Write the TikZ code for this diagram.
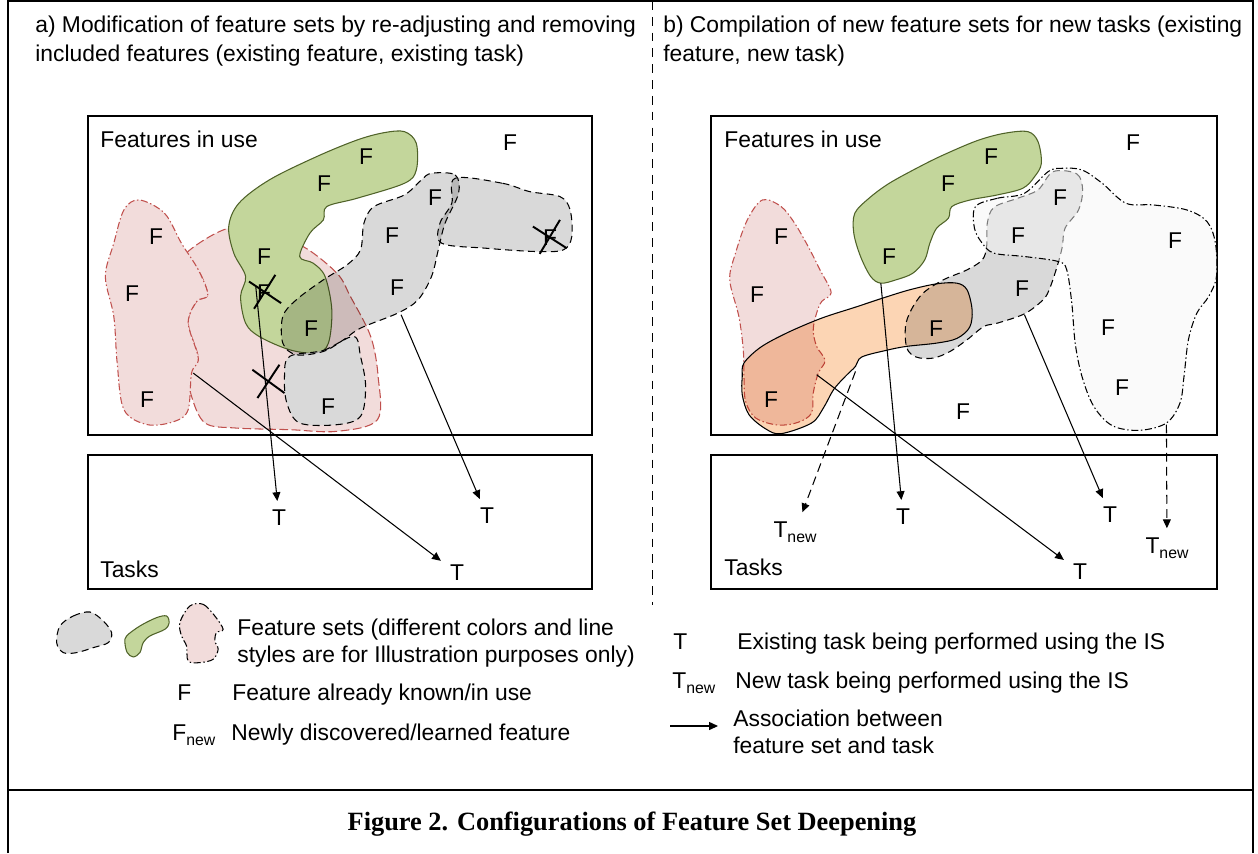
\documentclass[tikz,border=0pt]{standalone}
\usepackage{fontspec}
\setmainfont{Liberation Sans}
\newfontfamily\captionfont{Liberation Serif}
\usepackage{xcolor}
\usetikzlibrary{arrows.meta, positioning}

\definecolor{setgreen}{HTML}{C3D69B}
\definecolor{setgreenline}{HTML}{4F6228}
\definecolor{setred}{HTML}{F2DCDB}
\definecolor{setredline}{HTML}{C0504D}
\definecolor{setgray}{HTML}{D9D9D9}
\definecolor{setorange}{HTML}{FCD5B4}
\definecolor{setlight}{HTML}{F5F5F5}

\newcommand{\newsub}{\raisebox{-0.45ex}{\fontsize{9}{10}\selectfont new}}

\begin{document}
\begin{tikzpicture}[
    x=0.02cm, y=-0.02cm,
    every node/.style={font=\fontsize{13}{16}\selectfont, inner sep=0pt},
    txt/.style={anchor=base west, align=left},
    feat/.style={},
    task/.style={inner sep=5pt},
    panel/.style={draw, line width=0.8pt},
    blobline/.style={line width=0.6pt},
    dashline/.style={dash pattern=on 4pt off 2.5pt},
    dashdotline/.style={dash pattern=on 4pt off 1.5pt on 0.8pt off 1.5pt},
    greenset/.style={blobline, fill=setgreen, draw=setgreenline},
    redset/.style={blobline, fill=setred, draw=setredline},
    grayset/.style={blobline, dashline, fill=setgray, draw=black},
    orangeset/.style={blobline, fill=setorange, draw=black},
    lightset/.style={blobline, dashdotline, fill=setlight, fill opacity=0.5, draw=black},
    assoc/.style={-{Triangle[length=5pt,width=4.5pt]}, line width=0.6pt},
    newassoc/.style={assoc, dash pattern=on 5pt off 3pt},
    strike/.style={line width=1.1pt}
  ]
  \useasboundingbox (0,0) rectangle (1258,853);

  % frame
  \draw[line width=1.2pt] (8,853) -- (8,1) -- (1253,1) -- (1253,853);
  \draw[line width=1.6pt] (8,790) -- (1253,790);
  \draw[line width=0.5pt, dash pattern=on 5pt off 4pt] (652,1) -- (652,605);

  % headings (base = last line)
  \node[txt] (heada) at (35,61) {a) Modification of feature sets by re-adjusting and removing\\included features (existing feature, existing task)};
  \node[txt] (headb) at (663,61) {b) Compilation of new feature sets for new tasks (existing\\feature, new task)};

  % boxes
  \draw[panel] (88,116) rectangle (592,435);
  \draw[panel] (88,455) rectangle (592,589);
  \draw[panel] (711,116) rectangle (1217,435);
  \draw[panel] (711,455) rectangle (1217,589);

  % ---- panel a: feature sets
  \begin{scope}[shift={(80,110)}, xscale=0.338, yscale=0.333]
    \filldraw[redset, dash pattern=on 5pt off 2pt] plot[smooth cycle, tension=0.55] coordinates {
      (310,435) (440,355) (560,380) (660,410) (760,490) (800,560) (860,680) (882,800)
      (880,930) (760,965) (620,960) (460,955) (370,940) (330,860) (320,780) (350,745)
      (320,640) (345,575) (378,555) (350,480)};
    \filldraw[redset, dashdotline] plot[smooth cycle, tension=0.55] coordinates {
      (175,270) (250,310) (300,400) (350,480) (378,555) (345,575) (320,640) (350,745)
      (330,790) (320,900) (280,935) (200,945) (130,900) (110,760) (100,620) (75,500)
      (100,400) (130,300)};
    \filldraw[greenset] plot[smooth cycle, tension=0.55] coordinates {
      (960,65) (995,100) (995,180) (960,220) (820,265) (730,290) (720,330) (680,370)
      (650,440) (690,460) (725,500) (745,600) (735,700) (700,730) (620,720) (530,680)
      (490,640) (475,560) (490,500) (455,430) (440,350) (470,280) (560,210) (700,140)
      (820,90) (900,68)};
    \filldraw[grayset] plot[smooth cycle, tension=0.55] coordinates {
      (620,740) (720,722) (810,680) (830,740) (845,830) (830,920) (760,945) (650,940)
      (612,880) (605,800)};
    \begin{scope}[blend mode=multiply]
      \filldraw[grayset] plot[smooth cycle, tension=0.55] coordinates {
        (1110,205) (1250,220) (1330,245) (1420,260) (1450,300) (1455,380) (1430,420)
        (1350,425) (1200,415) (1070,400) (1065,340) (1100,280)};
      \filldraw[grayset] plot[smooth cycle, tension=0.55] coordinates {
        (1040,190) (1110,195) (1120,250) (1080,340) (1060,420) (1040,500) (1000,570)
        (940,610) (830,655) (780,690) (720,725) (640,735) (600,700) (600,620) (640,570)
        (720,510) (790,465) (830,420) (840,340) (870,290) (960,255) (1010,210)};
    \end{scope}
    % removed features
    \draw[strike] (500,515) -- (595,580) (578,495) -- (515,597);
    \draw[strike] (510,780) -- (605,850) (590,765) -- (525,865);
    \draw[strike] (1340,350) -- (1440,415) (1420,330) -- (1360,432);
    \coordinate (sa1) at (520,530);
    \coordinate (sa2) at (950,615);
    \coordinate (sa3) at (335,790);
  \end{scope}

  % ---- panel b: feature sets
  \begin{scope}[shift={(700,110)}, xscale=0.338, yscale=0.333]
    \filldraw[redset, dashdotline] plot[smooth cycle, tension=0.55] coordinates {
      (185,270) (240,290) (280,340) (320,410) (355,480) (388,548) (360,575) (345,610)
      (335,660) (345,710) (370,752) (350,790) (335,850) (330,910) (290,938) (230,946)
      (165,925) (135,875) (130,800) (128,720) (115,620) (88,510) (105,430) (140,330)};
    \filldraw[greenset] plot[smooth cycle, tension=0.55] coordinates {
      (970,65) (1000,95) (1010,160) (990,200) (955,235) (880,255) (800,270) (745,290)
      (735,325) (700,355) (680,400) (665,450) (630,490) (580,510) (535,520) (505,500)
      (475,440) (455,370) (458,310) (500,265) (560,220) (650,170) (720,135) (820,92)
      (900,70)};
    \begin{scope}[blend mode=multiply]
      \filldraw[orangeset] plot[smooth cycle, tension=0.55] coordinates {
        (130,760) (180,712) (260,668) (360,625) (460,592) (540,565) (620,540) (700,522)
        (760,520) (790,540) (805,600) (798,652) (760,686) (700,700) (610,710) (550,722)
        (478,742) (460,770) (430,800) (395,840) (365,895) (330,940) (240,972) (195,958)
        (145,915) (125,855) (125,800)};
      \filldraw[grayset] plot[smooth cycle, tension=0.55] coordinates {
        (1045,185) (1115,192) (1132,240) (1120,300) (1080,355) (1072,410) (1058,465)
        (1035,535) (1015,570) (960,612) (880,640) (840,650) (790,690) (740,725) (690,745)
        (640,742) (612,715) (608,650) (625,600) (660,550) (720,510) (790,480) (835,450)
        (848,410) (850,340) (870,292) (940,265) (1000,240)};
    \end{scope}
    \filldraw[lightset] plot[smooth cycle, tension=0.55] coordinates {
      (815,290) (880,265) (960,250) (1030,185) (1070,175) (1130,180) (1190,220) (1260,280)
      (1340,285) (1440,300) (1500,335) (1525,400) (1528,500) (1505,560) (1470,610)
      (1445,690) (1432,800) (1420,880) (1380,940) (1300,962) (1220,948) (1165,890)
      (1130,800) (1110,700) (1100,580) (1085,480) (1060,455) (960,440) (870,430)
      (835,400) (812,355)};
    \coordinate (sb1) at (460,785);
    \coordinate (sb2) at (535,520);
    \coordinate (sb3) at (345,795);
    \coordinate (sb4) at (960,615);
    \coordinate (sb5) at (1380,945);
  \end{scope}

  % ---- panel a: labels
  \node[txt] (usea) at (100,147) {Features in use};
  \node[txt] (taska) at (100,577) {Tasks};
  \node[feat] (fa0) at (510,143) {F};
  \node[feat] (fa1) at (366,157) {F};
  \node[feat] (fa2) at (324,184) {F};
  \node[feat] (fa3) at (264,257) {F};
  \node[feat] (fa4) at (435,198) {F};
  \node[feat] (fa5) at (392,236) {F};
  \node[feat] (fa6) at (397,288) {F};
  \node[feat] (fa7) at (550,238) {F};
  \node[feat] (fa8) at (156,237) {F};
  \node[feat] (fa9) at (132,294) {F};
  \node[feat] (fa10) at (147,400) {F};
  \node[feat] (fa11) at (264,293) {F};
  \node[feat] (fa12) at (311,329) {F};
  \node[feat] (fa13) at (328,407) {F};
  \node[task] (ta1) at (279,518) {T};
  \node[task] (ta2) at (487,516) {T};
  \node[task] (ta3) at (457,573) {T};
  \draw[assoc] (sa1) -- (ta1);
  \draw[assoc] (sa2) -- (ta2);
  \draw[assoc] (sa3) -- (ta3);

  % ---- panel b: labels
  \node[txt] (useb) at (724,147) {Features in use};
  \node[txt] (taskb) at (724,575) {Tasks};
  \node[feat] (fb0) at (1133,143) {F};
  \node[feat] (fb1) at (991,157) {F};
  \node[feat] (fb2) at (948,184) {F};
  \node[feat] (fb3) at (889,257) {F};
  \node[feat] (fb4) at (781,237) {F};
  \node[feat] (fb5) at (757,295) {F};
  \node[feat] (fb6) at (771,400) {F};
  \node[feat] (fb7) at (1060,198) {F};
  \node[feat] (fb8) at (1018,236) {F};
  \node[feat] (fb9) at (1022,289) {F};
  \node[feat] (fb10) at (936,329) {F};
  \node[feat] (fb11) at (1175,241) {F};
  \node[feat] (fb12) at (1108,328) {F};
  \node[feat] (fb13) at (1122,388) {F};
  \node[feat] (fb14) at (963,412) {F};
  \node[task] (tb1) at (795,532) {T\newsub};
  \node[task] (tb2) at (903,517) {T};
  \node[task] (tb3) at (1080,572) {T};
  \node[task] (tb4) at (1110,515) {T};
  \node[task] (tb5) at (1167,548) {T\newsub};
  \draw[newassoc] (sb1) -- (tb1);
  \draw[assoc] (sb2) -- (tb2);
  \draw[assoc] (sb3) -- (tb3);
  \draw[assoc] (sb4) -- (tb4);
  \draw[newassoc] (sb5) -- (tb5);

  % ---- legend left
  \begin{scope}[shift={(40,596)}, scale=0.333]
    \filldraw[grayset] plot[smooth cycle, tension=0.55] coordinates {
      (60,90) (100,60) (150,48) (190,75) (215,110) (205,140) (160,155) (110,170) (70,170) (50,140)};
    \filldraw[greenset] plot[smooth cycle, tension=0.55] coordinates {
      (260,120) (300,90) (350,65) (380,60) (388,80) (375,100) (330,120) (310,140) (300,170)
      (280,183) (262,170) (255,140)};
    \filldraw[redset, draw=black, dashdotline] plot[smooth cycle, tension=0.55] coordinates {
      (450,30) (490,25) (525,60) (550,100) (530,110) (525,135) (535,160) (520,190) (480,200)
      (445,195) (440,150) (425,120) (420,80)};
  \end{scope}
  \node[txt, font=\fontsize{13}{15.3}\selectfont] (setkey) at (237,662) {Feature sets (different colors and line\\styles are for Illustration purposes only)};
  \node[txt] (fkey) at (177,700) {F};
  \node[txt] (fkeytext) at (232,700) {Feature already known/in use};
  \node[txt] (fnewkey) at (172,740) {F\newsub};
  \node[txt] (fnewkeytext) at (231,740) {Newly discovered/learned feature};

  % ---- legend right
  \node[txt] (tkey) at (673,649) {T};
  \node[txt] (tkeytext) at (737,649) {Existing task being performed using the IS};
  \node[txt] (tnewkey) at (672,688) {T\newsub};
  \node[txt] (tnewkeytext) at (735,688) {New task being performed using the IS};
  \coordinate (akeyfrom) at (670,726);
  \coordinate (akeyto) at (718,726);
  \draw[assoc] (akeyfrom) -- (akeyto);
  \node[txt, font=\fontsize{13}{15.3}\selectfont] (akeytext) at (733,753) {Association between\\feature set and task};

  % caption
  \node[anchor=base, font=\captionfont\bfseries\fontsize{15}{17}\selectfont] (caption) at (632,830) {Figure 2. Configurations of Feature Set Deepening};
\end{tikzpicture}
\end{document}
